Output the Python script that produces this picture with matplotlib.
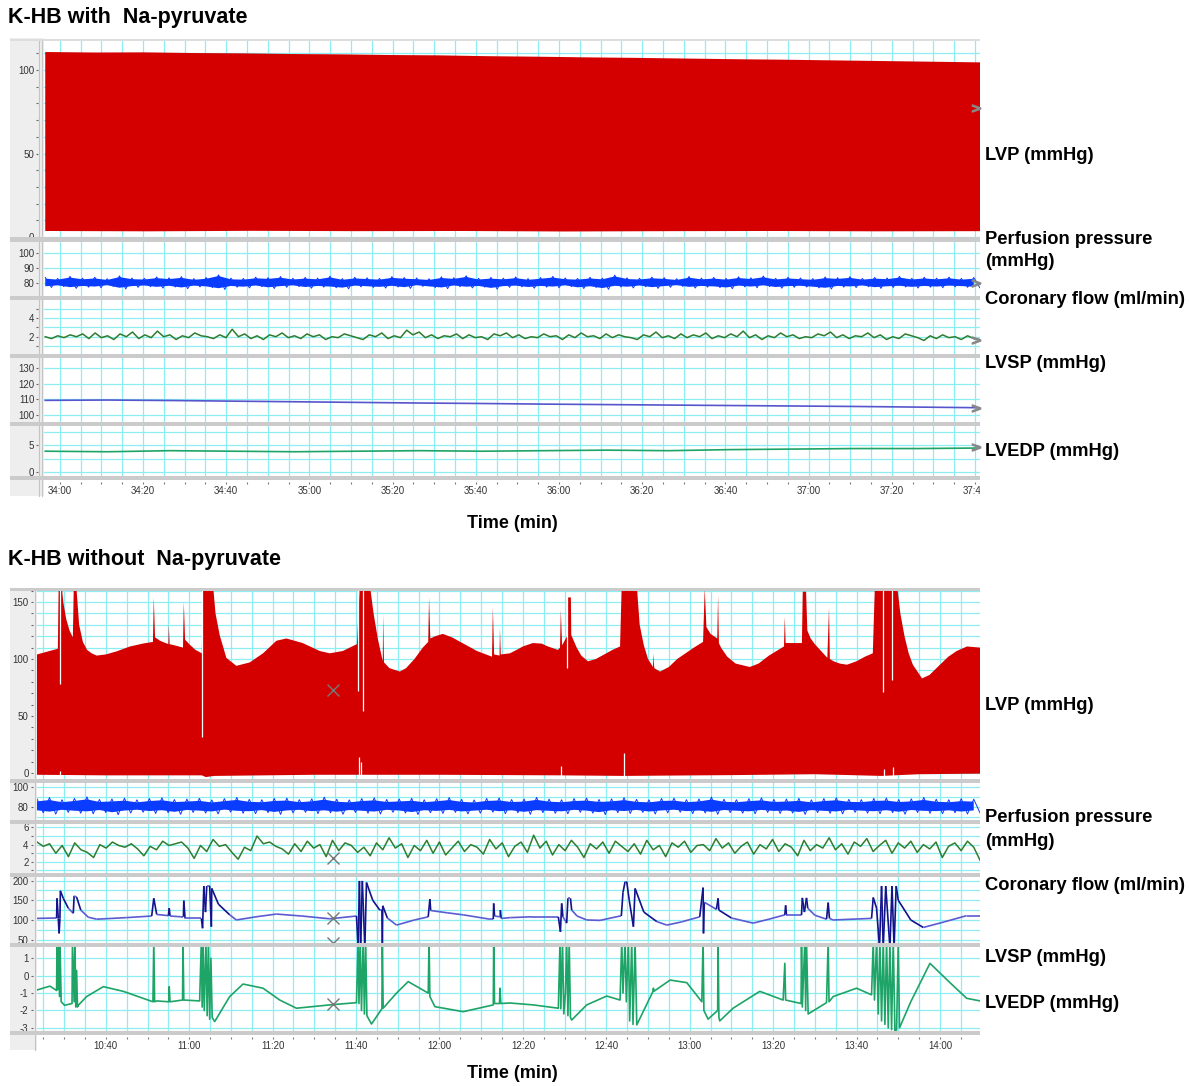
import numpy as np
import matplotlib
matplotlib.use("Agg")
import matplotlib.pyplot as plt
from matplotlib.patches import Rectangle
from matplotlib.collections import LineCollection
from matplotlib.ticker import MultipleLocator, FuncFormatter

plt.rcParams["font.family"] = ["Liberation Sans", "DejaVu Sans"]
plt.rcParams["axes.unicode_minus"] = False

W, H = 1189, 1086
GRID = "#8aeef2"
BAR = "#cbcbcb"

# ---------------- K-HB with Na-pyruvate (time in s) ----------------
T1 = (2036.2, 2261.2)
lvp1_top = [110.8, 110.5, 110.6, 110.2, 110.0, 109.6, 109.4, 109.0, 108.8, 108.3,
            108.0, 107.6, 107.3, 106.9, 106.5, 106.2, 105.8, 105.4, 105.0, 104.6]
lvp1_bot = [3.6, 3.4, 3.7, 3.5, 3.6, 3.3, 3.5, 3.6, 3.4, 3.5]
pp1_hi = [83.5, 82.8, 84.2, 83.0, 83.6, 82.6, 84.5, 83.1, 82.9, 83.8, 83.2, 84.0, 82.7, 83.4, 85.2, 83.0, 82.8, 83.7, 83.3, 84.1,
          82.9, 83.5, 83.0, 84.3, 82.7, 83.6, 83.2, 82.8, 84.0, 83.4, 83.1, 82.6, 83.9, 83.3, 84.6, 82.9, 83.5, 83.0, 83.8, 82.7,
          83.4, 84.2, 83.1, 82.8, 83.6, 83.0, 85.0, 83.2, 82.9, 83.7, 83.3, 82.6, 84.1, 83.0, 83.5, 82.8, 83.9, 83.2, 84.4, 82.9,
          83.6, 83.1, 82.7, 83.8, 83.3, 84.0, 82.8, 83.5, 83.1, 84.2, 82.9, 83.6, 83.0, 83.7, 82.8, 83.4]
pp1_lo = [76.8, 77.4, 76.2, 77.0, 76.6, 77.5, 75.8, 76.9, 77.3, 76.4, 77.1, 76.0, 77.2, 76.7, 75.5, 77.0, 76.5, 77.3, 76.1, 76.9,
          77.4, 76.3, 77.0, 76.6, 75.9, 77.2, 76.8, 76.4, 77.1, 76.2, 77.5, 76.7, 76.0, 77.3, 76.5, 77.0, 75.7, 76.9, 77.2, 76.3,
          77.0, 76.6, 77.4, 76.1, 76.8, 75.6, 77.1, 76.5, 77.3, 76.2, 76.9, 77.5, 76.4, 77.0, 76.7, 76.0, 77.2, 76.6, 77.4, 76.3,
          76.9, 77.1, 76.5, 75.8, 77.0, 76.7, 77.3, 76.2, 76.8, 77.1, 76.4, 77.0, 76.6, 77.2, 76.9, 76.5]
cf1 = [2.0, 1.8, 2.1, 1.9, 2.2, 2.0, 2.3, 1.8, 2.4, 1.9, 2.1, 1.7, 2.3, 2.0, 2.5, 1.8, 2.2, 1.9, 2.6, 2.0,
       2.2, 1.7, 2.1, 1.9, 2.4, 2.1, 2.0, 1.8, 2.2, 1.9, 2.8, 2.0, 2.3, 1.8, 2.1, 1.7, 2.2, 2.0, 2.4, 1.9,
       2.1, 1.8, 2.3, 2.0, 2.2, 1.7, 2.0, 1.9, 2.3, 2.1, 1.9, 1.7, 2.2, 2.0, 2.4, 1.8, 2.1, 1.9, 2.7, 2.2,
       2.5, 1.9, 2.2, 1.8, 2.1, 2.0, 2.3, 1.8, 2.2, 1.9, 2.0, 1.7, 2.3, 2.1, 2.4, 1.9, 2.2, 1.8, 2.0, 1.9,
       2.3, 2.0, 2.1, 1.7, 2.2, 1.9, 2.4, 2.0, 2.1, 1.8, 2.3, 1.9, 2.2, 2.0, 1.9, 1.7, 2.2, 2.0, 2.5, 1.9,
       2.1, 1.8, 2.3, 1.9, 2.2, 2.0, 2.4, 1.8, 2.1, 1.9, 2.3, 2.0, 2.6, 1.9, 2.2, 1.7, 2.1, 1.9, 2.4, 2.0,
       2.2, 1.8, 2.0, 1.9, 2.3, 2.1, 2.5, 1.9, 2.2, 1.8, 2.1, 2.0, 2.4, 1.9, 2.2, 1.7, 2.0, 1.8, 2.3, 2.1,
       1.9, 1.6, 2.1, 1.8, 2.2, 1.9, 2.0, 1.7, 2.1, 1.8, 1.7]
lvsp1 = [109.3, 109.5, 109.2, 108.8, 108.4, 108.0, 107.6, 107.3, 106.9, 106.6, 106.3, 106.0, 105.7, 105.4, 105.0, 104.6]
lvedp1 = [3.9, 3.8, 4.0, 3.9, 3.8, 3.9, 4.0, 3.9, 4.0, 4.1, 4.0, 4.2, 4.3, 4.4, 4.4, 4.5]

# ---------------- K-HB without Na-pyruvate ----------------
T2 = (623.5, 849.6)
lvp2_top = [(623.5, 104), (625, 105.5), (627, 107.5), (628.5, 109), (628.7, 165), (629.4, 165), (629.8, 150),
            (630.5, 135), (631.3, 125), (632.1, 119), (632.3, 160), (633.0, 160), (633.6, 130), (634.5, 115),
            (635.5, 108), (636.6, 105), (637.8, 103), (640, 104), (642.6, 106.7), (645.8, 111), (649, 113.6),
            (651.3, 115), (651.5, 154), (651.8, 119), (653, 116), (655.0, 113), (655.1, 130), (655.3, 113),
            (656.5, 112), (658.5, 110), (658.7, 150), (659.0, 117), (660, 113), (661.5, 108), (663.0, 105),
            (663.3, 165), (665.7, 165), (666.3, 140), (667.3, 121), (668.9, 101), (671.3, 94), (674.5, 97),
            (677.7, 105), (680.9, 116), (683.3, 118), (687.2, 114), (691.3, 107), (693.7, 105), (696.8, 107),
            (700.2, 113), (700.9, 165), (703.3, 165), (704.2, 140), (705.2, 118), (706.4, 98), (706.5, 139),
            (706.7, 97), (708, 92), (710.5, 89), (712, 92), (714, 100), (716, 110), (717.3, 115), (717.5, 154),
            (717.8, 118), (719, 120), (720.8, 122), (723, 119), (726, 113), (729, 107), (732.6, 102), (732.8, 145),
            (733.1, 104), (734.4, 103), (734.5, 127), (734.7, 104), (736.9, 105), (738.5, 108), (740, 111),
            (742.4, 114), (744.5, 113.5), (746, 111), (748.4, 108), (748.9, 110), (749.1, 143), (749.4, 112),
            (750.6, 120), (750.8, 154), (751.5, 154), (751.6, 121), (752.9, 110), (754, 103), (755.6, 98),
            (757.5, 100), (759.5, 104), (761.5, 108), (763.3, 111), (763.7, 165), (767.3, 165), (768, 130),
            (769, 112), (770, 100), (771.2, 93), (771.3, 105), (771.5, 92), (772.9, 89), (775, 93), (777, 100),
            (779, 105), (781, 110), (783.2, 115), (783.6, 162), (784, 128), (785, 122), (786.6, 118), (786.8, 156),
            (787.0, 114), (787.5, 110), (789, 102), (791, 96), (794.4, 93), (796.5, 96), (799, 103), (802.6, 111),
            (802.8, 137), (803.0, 114), (806.9, 114), (807.1, 159), (807.9, 159), (808.2, 125), (809, 118),
            (810, 113), (811.5, 107), (813.0, 101), (813.4, 145), (813.6, 100), (814.5, 98), (816, 96),
            (817.7, 95), (820, 98), (822, 102), (823.9, 105), (824.4, 165), (829.7, 165), (830.5, 140),
            (831.5, 120), (832.5, 105), (833.5, 95), (835.7, 83), (837.5, 86), (840, 95), (842, 102), (844, 107),
            (846.5, 111), (849.6, 110)]
lvp2_bot = [(623.5, -1.5), (640, -2.0), (663, -2.0), (664, -3.5), (666, -2.5), (690, -1.5), (720, -1.5),
            (749, -2.0), (764, -2.5), (790, -1.8), (810, -1.0), (826, -2.5), (835, -1.0), (849.6, -0.5)]
dip_t = [629.0, 663.1, 700.4, 701.6, 750.6, 826.3, 828.5]
dip_lo = [78, 32, 72, 54, 92, 71, 82]
dip_hi = [165, 165, 165, 165, 154, 165, 165]
notch_t = [629.0, 700.6, 701.2, 749.2, 764.3, 826.5, 828.7]
notch_hi = [2, 14, 10, 6, 18, 4, 5]

pp2_hi = [88.5, 89.8, 87.6, 88.9, 90.5, 87.9, 88.4, 89.2, 87.5, 88.8, 89.6, 87.8, 88.3, 89.0, 87.4, 88.7, 89.9, 88.0, 87.6, 88.9,
          89.3, 87.7, 88.5, 90.2, 88.1, 87.5, 88.8, 89.5, 87.9, 88.4, 89.1, 87.6, 88.6, 89.8, 88.0, 87.4, 88.9, 89.4, 87.8, 88.3,
          90.0, 88.2, 87.6, 88.8, 89.3, 87.9, 88.5, 89.7, 88.0, 87.5, 88.9, 89.2, 87.7, 88.4, 90.3, 88.1, 87.6, 88.7, 89.5, 87.9,
          88.3, 89.0, 87.5, 88.8, 89.6, 88.0, 87.7, 88.9, 89.3, 87.8, 88.5, 89.9, 88.1, 87.6, 88.7, 88.2]
pp2_lo = [74.5, 73.2, 75.0, 74.1, 73.5, 74.8, 72.6, 74.3, 75.1, 73.8, 74.6, 73.0, 74.9, 74.2, 73.4, 75.2, 74.0, 73.6, 74.7, 72.9,
          74.4, 75.0, 73.7, 74.5, 73.1, 74.8, 74.1, 73.3, 75.0, 74.3, 72.8, 74.6, 73.9, 74.9, 73.4, 74.2, 75.1, 73.6, 74.5, 73.0,
          74.7, 74.0, 73.5, 75.0, 74.2, 72.7, 74.6, 73.8, 74.9, 73.3, 74.4, 75.1, 73.7, 74.3, 73.0, 74.8, 74.1, 73.5, 74.9, 73.9,
          74.3, 72.9, 74.7, 74.0, 73.4, 75.0, 74.2, 73.6, 74.6, 73.1, 74.8, 74.0, 73.7, 74.5, 73.3, 74.4]
cf2 = [4.3, 3.8, 4.1, 3.0, 3.9, 2.6, 4.2, 3.4, 3.1, 2.5, 4.0, 3.6, 4.3, 3.9, 3.7, 4.1, 3.5, 2.7, 3.8, 3.4,
       4.4, 3.9, 4.1, 4.3, 3.6, 2.4, 3.9, 3.2, 4.6, 3.8, 4.0, 3.1, 2.3, 3.7, 3.3, 5.0, 4.1, 4.3, 3.8, 3.5,
       2.9, 4.1, 3.2, 4.4, 3.6, 4.0, 2.6, 4.5, 3.3, 4.2, 3.9, 3.1, 3.7, 2.7, 4.2, 3.4, 4.8, 3.6, 4.1, 2.5,
       3.9, 3.3, 4.5, 3.0, 4.3, 2.8, 3.6, 4.4, 3.2, 4.0, 3.7, 2.9, 4.6, 3.5, 4.2, 2.6, 3.8, 4.3, 3.1, 5.1,
       3.6, 4.4, 2.8, 4.0, 3.3, 4.5, 3.7, 2.5, 4.1, 3.5, 4.3, 3.0, 4.4, 3.8, 3.2, 4.1, 2.9, 4.5, 3.4, 3.9,
       2.6, 4.2, 3.7, 4.4, 3.1, 3.9, 4.0, 3.3, 4.7, 3.6, 4.2, 3.0, 3.8, 4.3, 2.9, 4.0, 3.5, 4.6, 3.2, 4.1,
       3.7, 2.7, 4.5, 3.3, 4.0, 3.6, 4.8, 3.4, 4.1, 2.9, 4.3, 3.8, 4.7, 3.2, 3.9, 4.5, 3.0, 4.2, 3.6, 4.4,
       3.1, 4.0, 3.5, 4.3, 2.5, 3.8, 4.2, 3.3, 4.4, 3.7, 2.2]
lvsp2 = [(623.5, 104), (628.2, 105), (628.3, 155), (628.6, 104), (628.8, 66), (629.0, 104), (629.1, 174), (629.8, 155),
         (631, 130), (632.2, 117), (632.4, 161), (633.0, 158), (634, 125), (635.8, 107), (637.8, 102), (645, 106),
         (651.0, 110), (651.5, 155), (652.2, 114), (655.0, 111), (655.2, 130), (655.4, 110), (658.1, 108), (658.6, 108),
         (658.7, 149), (659.0, 104), (662.9, 104), (663.2, 79), (663.5, 186), (663.9, 120), (664.2, 186), (664.9, 186),
         (665.3, 83), (665.4, 180), (667, 140), (669.7, 113), (671.3, 100), (676, 108), (680.9, 115), (687, 110),
         (693.7, 103), (700.1, 110), (700.5, 30), (700.8, 199), (701.1, 30), (701.5, 199), (702.1, 30), (702.5, 195),
         (704, 150), (705.7, 125), (706.2, 125), (706.3, 30), (706.4, 136), (707.5, 105), (709.7, 87), (714, 100),
         (717.3, 108), (717.7, 153), (717.9, 124), (722, 118), (725.7, 113), (732.1, 102), (732.9, 102), (733.0, 142),
         (733.2, 110), (734.5, 108), (734.6, 125), (734.8, 104), (737, 106), (742, 108), (748.5, 108), (749.0, 70),
         (749.3, 142), (749.6, 108), (750.5, 92), (750.8, 155), (751.4, 155), (751.7, 125), (753, 110), (755.3, 100),
         (758.5, 99), (763.3, 110), (763.6, 110), (764.0, 170), (764.5, 197), (764.9, 197), (765.5, 150), (766.5, 83),
         (766.9, 180), (769, 120), (772.1, 96), (774.5, 87), (778, 95), (782.4, 108), (783.2, 182), (783.3, 66),
         (783.5, 145), (786.4, 127), (786.8, 155), (787.0, 125), (790, 105), (795.2, 92), (799, 102), (802.8, 113),
         (803.0, 137), (803.2, 112), (806.8, 112), (807.0, 156), (807.5, 120), (808.0, 156), (808.3, 130), (810, 112),
         (812.8, 102), (813.2, 144), (813.5, 104), (814.4, 100), (823.6, 104), (824.0, 157), (824.8, 130), (825.5, 30),
         (826, 186), (826.4, 30), (827, 186), (828.0, 30), (828.5, 186), (829.0, 30), (829.5, 186), (830.0, 150),
         (833, 100), (836.0, 81), (841, 95), (846.4, 111), (849.6, 111)]
lvedp2 = [(623.5, -0.82), (626.6, -0.6), (628.2, -0.85), (628.3, 2), (628.5, -0.8), (628.6, 2), (628.9, -1.2), (629.0, 2),
          (629.3, -1.5), (630.1, -1.7), (631.9, -1.6), (632.0, 2), (632.4, -1.5), (632.6, 2), (632.8, -1.8), (633.0, 0.3),
          (633.2, -1.8), (633.4, -1.7), (635.4, -1.2), (639.4, -0.63), (644.2, -0.9), (651.3, -1.5), (651.5, 2),
          (651.7, -1.5), (652.2, -1.45), (655.1, -1.5), (655.2, -0.63), (655.4, -1.5), (658.4, -1.4), (658.5, 2),
          (658.7, -1.4), (662.5, -1.45), (662.9, 2), (663.1, -1.8), (663.3, 2), (663.6, -2.0), (664.0, 2), (664.3, -2.3),
          (664.6, 2), (664.9, -2.5), (665.2, 1.0), (665.5, -2.4), (666.1, -2.64), (669.7, -1.2), (672.9, -0.48),
          (677.7, -0.72), (681.7, -1.4), (685.7, -1.87), (693.7, -1.68), (700.1, -1.55), (700.5, 2), (700.7, -1.6),
          (701.0, 2), (701.3, -2.0), (701.7, 2), (702.0, -2.2), (702.3, 2), (702.6, -2.3), (703.7, -2.78), (706.2, -1.9),
          (706.3, 2), (706.5, -1.87), (709.7, -1.0), (712.5, -0.34), (717.3, -1.0), (717.5, 2), (717.7, -1.2),
          (718.9, -1.78), (725.7, -2.07), (732.9, -1.68), (733.0, 2), (733.2, -1.6), (734.4, -1.6), (734.5, -0.72),
          (734.7, -1.6), (736.9, -1.57), (742.5, -1.68), (748.5, -1.87), (748.9, 2), (749.1, -1.9), (749.5, 2),
          (749.8, -2.2), (750.2, -1.0), (750.5, 2), (750.8, -2.3), (751.1, 2), (751.4, -2.4), (751.7, -2.55),
          (755.3, -1.68), (760.1, -1.17), (763.3, -1.4), (763.7, 2), (764.0, -1.0), (764.5, 2), (764.8, -1.5),
          (765.3, 2), (765.6, -2.6), (766.1, 2), (766.4, -2.8), (766.9, 2), (767.3, -2.83), (771.2, -0.9),
          (771.3, -0.72), (771.4, -0.9), (775.3, -0.25), (779.3, -0.4), (782.9, -1.5), (783.2, 2), (783.4, -2.0),
          (784.4, -2.5), (786.7, -2.0), (786.8, 2), (787.0, -2.4), (787.2, -2.6), (790.4, -1.87), (796.8, -0.9),
          (802.4, -1.4), (802.8, 0.71), (803.0, -1.4), (806.7, -1.6), (806.8, 2), (807.0, -1.8), (807.6, 2),
          (807.8, -2.0), (808.0, 2), (808.4, -2.2), (812.8, -1.55), (813.2, 2), (813.4, -1.5), (814.4, -1.2),
          (820.0, -0.72), (823.6, -1.1), (824.0, 2), (824.3, -1.4), (824.8, 2), (825.2, -2.2), (825.6, 2), (826.0, -2.6),
          (826.4, 2), (826.8, -2.8), (827.2, 2), (827.6, -3.0), (828.0, 2), (828.4, -3.1), (828.8, 2), (829.2, -3.2),
          (829.6, -3.12), (830.0, 2), (830.3, -3.0), (833, -1.5), (837.6, 0.71), (842.4, -0.4), (846.4, -1.3),
          (849.6, -1.45)]
cursor_t = 694.4
cursor_vals = {"lvp": 73, "cf": 2.45, "lvsp": [104, 42], "lvedp": -1.6}


def px(x0, y0, x1, y1):
    return [x0 / W, 1 - y1 / H, (x1 - x0) / W, (y1 - y0) / H]


def mmss(s, pos=None):
    return "%d:%02d" % (int(s // 60), int(round(s % 60)))


def panel(fig, rect, xlim, ylim, yticks, ygrid, off, yminor=None):
    ax = fig.add_axes(px(*rect))
    ax.set_xlim(*xlim)
    ax.set_ylim(*ylim)
    for s in ax.spines.values():
        s.set_visible(False)
    ax.spines["left"].set_position(("outward", off))
    ax.set_yticks(yticks)
    if yminor:
        ax.yaxis.set_minor_locator(MultipleLocator(yminor))
    ax.tick_params(axis="y", which="both", direction="out", length=1.5, width=0.8,
                   color="#666666", labelsize=7, labelcolor="#333333", pad=1.5)
    ax.tick_params(axis="x", which="both", bottom=False, labelbottom=False)
    for g in ygrid:
        ax.axhline(g, color=GRID, lw=0.9, zorder=1)
    for g in np.arange(np.ceil(xlim[0] / 5) * 5, xlim[1], 5):
        ax.axvline(g, color=GRID, lw=0.9, zorder=1)
    return ax


def time_axis(ax):
    ax.spines["bottom"].set_position(("outward", 4))
    ax.xaxis.set_major_locator(MultipleLocator(20))
    ax.xaxis.set_minor_locator(MultipleLocator(5))
    ax.xaxis.set_major_formatter(FuncFormatter(mmss))
    ax.tick_params(axis="x", which="both", bottom=True, labelbottom=True, direction="out",
                   length=1.5, width=0.8, color="#777777", labelsize=7, labelcolor="#333333", pad=1.5)


def band(ax, t_hi, hi, t_lo, lo, color):
    ax.fill(np.concatenate([t_hi, t_lo[::-1]]), np.concatenate([hi, lo[::-1]]),
            color=color, lw=0, zorder=3)


def noise(ax, t, hi, lo, color):
    # zig-zag between the read upper and lower edges to give the trace its texture
    step = t[1] - t[0]
    zt = np.ravel(np.column_stack([t, t + step / 2]))
    zv = np.ravel(np.column_stack([hi, lo]))
    ax.plot(zt, zv, color=color, lw=0.7, zorder=4)


def arrow_mark(ax, x, y):
    ax.plot([x], [y], marker="$>$", ms=6, color="#888888", zorder=6, clip_on=False)


fig = plt.figure(figsize=(W / 100, H / 100), dpi=100)

# ------------------- upper block -------------------
fig.add_artist(Rectangle((10 / W, 1 - 496 / H), 34 / W, 458 / H, transform=fig.transFigure,
                         fc="#eeeeee", ec="none", zorder=-1))
for xl in (39, 42):
    fig.add_artist(plt.Line2D([xl / W, xl / W], [1 - 496 / H, 1 - 40 / H], transform=fig.transFigure,
                              color="#c4c4c4", lw=0.8, zorder=-1))

X0, X1 = 44, 980
ax = panel(fig, (X0, 40, X1, 238), T1, (-0.6, 118), [0, 50, 100], np.arange(0, 118, 10), 4, yminor=10)
t = np.linspace(T1[0] + 0.3, T1[1], len(lvp1_top))
tb = np.linspace(T1[0] + 0.3, T1[1], len(lvp1_bot))
band(ax, t, np.array(lvp1_top), tb, np.array(lvp1_bot), "#d40000")
arrow_mark(ax, T1[1] - 1, 77)

ax = panel(fig, (X0, 242, X1, 296), T1, (71.1, 107.1), [80, 90, 100], [80, 90, 100], 4)
t = np.linspace(T1[0] + 0.3, T1[1] - 1.5, len(pp1_hi))
band(ax, t, np.array(pp1_hi) - 0.8, t, np.array(pp1_lo) + 0.8, "#0a3cff")
noise(ax, t, pp1_hi, pp1_lo, "#0a3cff")
arrow_mark(ax, T1[1] - 1, 80)

ax = panel(fig, (X0, 300, X1, 354), T1, (0.15, 5.93), [2, 4], [1, 2, 3, 4, 5], 4, yminor=1)
ax.plot(np.linspace(T1[0] + 0.3, T1[1], len(cf1)), cf1, color="#2f7d2f", lw=1.1, zorder=4)
arrow_mark(ax, T1[1] - 1, 1.6)

ax = panel(fig, (X0, 358, X1, 422), T1, (95.5, 136.3), [100, 110, 120, 130], [100, 110, 120, 130], 4)
ax.plot(np.linspace(T1[0] + 0.3, T1[1], len(lvsp1)), lvsp1, color="#5555cc", lw=1.2, zorder=4)
arrow_mark(ax, T1[1] - 1, 104.5)

ax = panel(fig, (X0, 426, X1, 476), T1, (-0.75, 8.63), [0, 5], [0, 2.5, 5, 7.5], 4)
ax.plot(np.linspace(T1[0] + 0.3, T1[1], len(lvedp1)), lvedp1, color="#1ea466", lw=1.2, zorder=4)
arrow_mark(ax, T1[1] - 1, 4.6)
time_axis(ax)

for y0, y1 in [(237, 242), (296, 300), (354, 358), (422, 426), (476, 480)]:
    fig.add_artist(Rectangle((10 / W, 1 - y1 / H), (X1 - 10) / W, (y1 - y0) / H,
                             transform=fig.transFigure, fc=BAR, ec="none", zorder=5))
fig.add_artist(Rectangle((10 / W, 1 - 41 / H), (X1 - 10) / W, 2 / H,
                         transform=fig.transFigure, fc="#dddddd", ec="none", zorder=5))
# last time label is cut by the window edge
fig.add_artist(Rectangle((X1 / W, 1 - 497 / H), 12 / W, 16 / H,
                         transform=fig.transFigure, fc="white", ec="none", zorder=5))

# ------------------- lower block -------------------
fig.add_artist(Rectangle((10 / W, 1 - 1050 / H), 27 / W, 462 / H, transform=fig.transFigure,
                         fc="#eeeeee", ec="none", zorder=-1))
fig.add_artist(plt.Line2D([35 / W, 35 / W], [1 - 1050 / H, 1 - 590 / H], transform=fig.transFigure,
                          color="#c4c4c4", lw=0.8, zorder=-1))

X0 = 37
ax = panel(fig, (X0, 590, X1, 779), T2, (-5.2, 160.5), [0, 50, 100, 150], np.arange(0, 161, 10), 3, yminor=10)
ut, uv = np.array(lvp2_top).T
lt, lv = np.array(lvp2_bot).T
band(ax, ut, uv, lt, lv, "#d40000")
ax.vlines(dip_t, dip_lo, dip_hi, color="white", lw=0.9, zorder=4)
ax.vlines(notch_t, -6, notch_hi, color="white", lw=0.9, zorder=4)
ax.plot([cursor_t], [cursor_vals["lvp"]], marker="x", ms=8, mew=1, color="#777777", zorder=6)

ax = panel(fig, (X0, 783, X1, 820), T2, (67.3, 104.4), [80, 100], [70, 80, 90, 100], 3)
t = np.linspace(T2[0], T2[1] - 1.5, len(pp2_hi))
band(ax, t, np.array(pp2_hi) - 2.5, t, np.array(pp2_lo) + 2.5, "#0a3cff")
noise(ax, t, pp2_hi, pp2_lo, "#0a3cff")

ax = panel(fig, (X0, 824, X1, 873), T2, (0.7, 6.4), [2, 4, 6], [1, 2, 3, 4, 5, 6], 3, yminor=1)
ax.plot(np.linspace(T2[0], T2[1], len(cf2)), cf2, color="#2f7d2f", lw=1.1, zorder=4)
ax.plot([cursor_t], [cursor_vals["cf"]], marker="x", ms=8, mew=1, color="#777777", zorder=6)

ax = panel(fig, (X0, 877, X1, 943), T2, (41.6, 209), [50, 100, 150, 200], [50, 75, 100, 125, 150, 175, 200], 3)
st, sv = np.array(lvsp2).T
segs = np.stack([np.column_stack([st[:-1], sv[:-1]]), np.column_stack([st[1:], sv[1:]])], axis=1)
cols = ["#12128c" if abs(d) > 18 else "#5b5bd2" for d in np.diff(sv)]
ax.add_collection(LineCollection(segs, colors=cols, lw=1.2, zorder=4))
for v in cursor_vals["lvsp"]:
    ax.plot([cursor_t], [v], marker="x", ms=8, mew=1, color="#777777", zorder=6, clip_on=False)

ax = panel(fig, (X0, 947, X1, 1031), T2, (-3.18, 1.65), [-3, -2, -1, 0, 1], [-3, -2, -1, 0, 1], 3)
et, ev = np.array(lvedp2).T
ax.plot(et, ev, color="#1ea466", lw=1.2, zorder=4)
ax.plot([cursor_t], [cursor_vals["lvedp"]], marker="x", ms=8, mew=1, color="#777777", zorder=6)
time_axis(ax)

for y0, y1 in [(588, 591), (779, 783), (820, 824), (873, 877), (943, 947), (1031, 1035)]:
    fig.add_artist(Rectangle((10 / W, 1 - y1 / H), (X1 - 10) / W, (y1 - y0) / H,
                             transform=fig.transFigure, fc=BAR, ec="none", zorder=5))


# ------------------- texts -------------------
def label(x, y, s, size=13.2, ha="left"):
    fig.text(x / W, 1 - y / H, s, fontsize=size, fontweight="bold", ha=ha, va="center", color="black")


label(8, 18, "K-HB with  Na-pyruvate", size=15.5)
label(8, 559, "K-HB without  Na-pyruvate", size=15.5)
label(512, 523, "Time (min)", size=13, ha="center")
label(512, 1074, "Time (min)", size=13, ha="center")

for y, s in [(155, "LVP (mmHg)"), (239, "Perfusion pressure"), (262, "(mmHg)"),
             (300, "Coronary flow (ml/min)"), (364, "LVSP (mmHg)"), (452, "LVEDP (mmHg)"),
             (706, "LVP (mmHg)"), (818, "Perfusion pressure"), (841, "(mmHg)"),
             (885, "Coronary flow (ml/min)"), (958, "LVSP (mmHg)"), (1003, "LVEDP (mmHg)")]:
    label(985, y, s)

fig.savefig("out.png", dpi=100)
